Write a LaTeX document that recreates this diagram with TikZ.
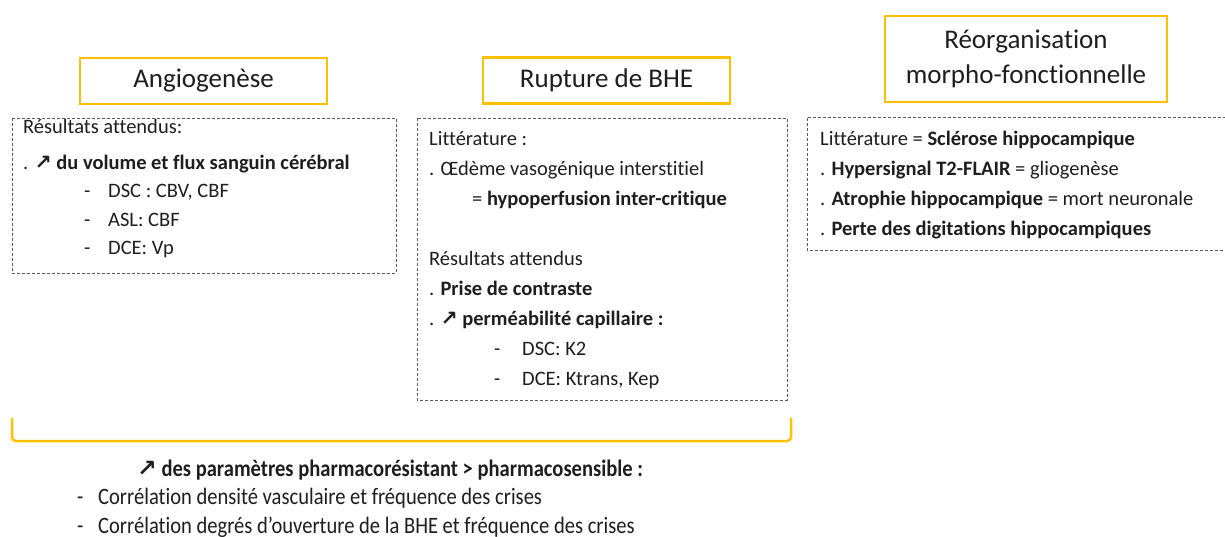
\documentclass[tikz,border=0pt]{standalone}
\usepackage{fontspec}
\setmainfont{Carlito}[Ligatures=NoCommon]
\newfontfamily\arrowfont{DejaVu Sans}
\newfontfamily\narrowfont{Carlito}[FakeStretch=0.875, Ligatures=NoCommon]
\definecolor{gold}{RGB}{255,192,0}
\definecolor{ink}{RGB}{30,30,30}
\definecolor{dashgray}{RGB}{90,90,90}
\newcommand{\hausse}{{\arrowfont\bfseries ↗}}
\newcommand{\puce}[2]{\hspace*{#1}\makebox[#2][l]{-}}

\tikzset{
  titlebox/.style={draw=gold, line width=2.5pt, minimum width=247pt, minimum height=46pt,
    align=center, text=ink, font=\fontsize{27}{35}\selectfont},
  resbox/.style={draw=dashgray, line width=0.9pt, dash pattern=on 3pt off 2pt},
  restext/.style={anchor=north west, inner sep=0pt, align=left, text=ink,
    font=\fontsize{20.5}{30}\selectfont},
  bilantext/.style={anchor=west, inner sep=0pt, text=ink,
    font=\narrowfont\fontsize{23.5}{28}\selectfont}
}

\begin{document}
\begin{tikzpicture}[x=1pt, y=-1pt]
    \useasboundingbox (0,0) rectangle (1225,536);
    \fill[white] (0,0) rectangle (1225,536);
    % titres
    \node[titlebox] (angio) at (203.5,81) {Angiogenèse};
    \node[titlebox] (bhe) at (606.5,80.5) {Rupture de BHE};
    \node[titlebox, minimum width=282pt, minimum height=86pt] (reorg) at (1026,59)
        {Réorganisation\\morpho-fonctionnelle};
    % cadres pointilles
    \draw[resbox] (12,118) rectangle (396,273);
    \draw[resbox] (417,118) rectangle (787,400);
    \draw[resbox] (1226,117) -- (807,117) -- (807,250) -- (1226,250);
    \node[restext, font=\fontsize{20.5}{28.5}\selectfont] (angiotxt) at (23,119.5) {Résultats attendus:\\[7pt]
        . \hausse\ \textbf{du volume et flux sanguin cérébral}\\
        \puce{61pt}{24pt}DSC : CBV, CBF\\
        \puce{61pt}{24pt}ASL: CBF\\
        \puce{61pt}{24pt}DCE: Vp};
    \node[restext] (bhetxt) at (429,131) {Littérature :\\
        . Œdème vasogénique interstitiel\\
        \hspace*{43pt}= \textbf{hypoperfusion inter-critique}\\
        \\
        Résultats attendus\\
        . \textbf{Prise de contraste}\\
        . \hausse\ \textbf{perméabilité capillaire :}\\
        \puce{65pt}{28pt}DSC: K2\\
        \puce{65pt}{28pt}DCE: Ktrans, Kep};
    \node[restext] (reorgtxt) at (820,131) {Littérature = \textbf{Sclérose hippocampique}\\
        . \textbf{Hypersignal T2-FLAIR} = gliogenèse\\
        . \textbf{Atrophie hippocampique} = mort neuronale\\
        . \textbf{Perte des digitations hippocampiques}};
    % accolade
    \draw[gold, line width=2.5pt, rounded corners=4pt] (12,418) -- (12,441) -- (791,441) -- (791,418);
    \node[bilantext, font=\narrowfont\bfseries\fontsize{23.5}{28}\selectfont] (bilan) at (137,470)
        {\hausse\ des paramètres pharmacorésistant > pharmacosensible :};
    \node[bilantext] (corrA) at (77,498) {\makebox[21pt][l]{-}Corrélation densité vasculaire et fréquence des crises};
    \node[bilantext] (corrB) at (77,527) {\makebox[21pt][l]{-}Corrélation degrés d’ouverture de la BHE et fréquence des crises};
\end{tikzpicture}
\end{document}
